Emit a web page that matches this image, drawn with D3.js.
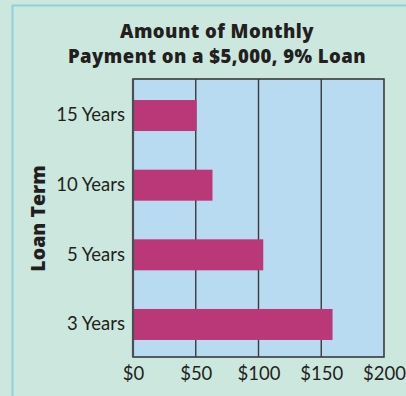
<!DOCTYPE html>
<html>
<head>
<meta charset="utf-8">
<script src="https://cdn.jsdelivr.net/npm/d3@7"></script>
<style>
  html, body { margin: 0; padding: 0; background: #cce8de; }
  svg { display: block; }
</style>
</head>
<body>
<svg id="chart" width="406" height="396"></svg>
<script>
// Monthly payment on a $5,000 loan at 9% interest, by loan term
const terms = ["15 Years", "10 Years", "5 Years", "3 Years"];
const payments = [50.71, 63.34, 103.79, 159.00];
const tickValues = [0, 50, 100, 150, 200];
const titleLines = ["Amount of Monthly", "Payment on a $5,000, 9% Loan"];
const axisTitle = "Loan Term";

const svg = d3.select("#chart");
const font = "Lato, 'Open Sans', sans-serif";
const boldFont = "'Open Sans', Lato, sans-serif";
const ink = "#231f20";

// Panel background with teal border on top and left
svg.append("rect").attr("width", 406).attr("height", 396).attr("fill", "#cce8de");
svg.append("line").attr("x1", 12.5).attr("x2", 12.5).attr("y1", 5).attr("y2", 396)
  .attr("stroke", "#8fd0d6").attr("stroke-width", 2);
svg.append("line").attr("x1", 12).attr("x2", 406).attr("y1", 5.5).attr("y2", 5.5)
  .attr("stroke", "#8fd0d6").attr("stroke-width", 2);

const plot = { left: 133, right: 384, top: 79, bottom: 357 };

const x = d3.scaleLinear().domain([0, 200]).range([plot.left, plot.right]);
const y = d3.scaleBand().domain(terms).range([80.7, 359.3]).paddingInner(0.555).paddingOuter(0.2775);

// Plot area
svg.append("rect")
  .attr("x", plot.left).attr("y", plot.top)
  .attr("width", plot.right - plot.left).attr("height", plot.bottom - plot.top)
  .attr("fill", "#b9dbf2");

// Vertical gridlines
svg.append("g").selectAll("line")
  .data(tickValues.slice(1, -1))
  .join("line")
  .attr("x1", d => x(d)).attr("x2", d => x(d))
  .attr("y1", plot.top).attr("y2", plot.bottom)
  .attr("stroke", "#3a3a3a").attr("stroke-width", 1.4);

// Bars
svg.append("g").selectAll("rect")
  .data(terms.map((t, i) => ({ term: t, value: payments[i] })))
  .join("rect")
  .attr("x", x(0))
  .attr("y", d => y(d.term))
  .attr("width", d => x(d.value) - x(0))
  .attr("height", y.bandwidth())
  .attr("fill", "#bb3878");

// Plot frame
svg.append("rect")
  .attr("x", plot.left).attr("y", plot.top)
  .attr("width", plot.right - plot.left).attr("height", plot.bottom - plot.top)
  .attr("fill", "none").attr("stroke", "#3a3a3a").attr("stroke-width", 1.6);
svg.append("line")
  .attr("x1", plot.left).attr("x2", plot.left).attr("y1", plot.top).attr("y2", plot.bottom)
  .attr("stroke", "#4a4f55").attr("stroke-width", 2.2);

// X axis labels
const xAxis = d3.axisBottom(x).tickValues(tickValues).tickFormat(d => "$" + d).tickSize(0).tickPadding(0);
const gx = svg.append("g").attr("transform", `translate(0, 367)`).call(xAxis);
gx.select(".domain").remove();
gx.selectAll("text")
  .attr("dy", "0.71em")
  .attr("font-family", font).attr("font-size", 18.5).attr("fill", ink);

// Y axis labels
const yAxis = d3.axisLeft(y).tickSize(0).tickPadding(8);
const gy = svg.append("g").attr("transform", `translate(${plot.left}, 0)`).call(yAxis);
gy.select(".domain").remove();
gy.selectAll("text")
  .attr("font-family", font).attr("font-size", 18.5).attr("fill", ink);

// Axis title
svg.append("text")
  .attr("transform", `translate(45, 218.5) rotate(-90)`)
  .attr("text-anchor", "middle")
  .attr("font-family", boldFont).attr("font-weight", 800).attr("font-size", 19.5)
  .attr("fill", ink)
  .text(axisTitle);

// Chart title
svg.append("g").selectAll("text")
  .data(titleLines)
  .join("text")
  .attr("x", 217)
  .attr("y", (d, i) => 38 + i * 25)
  .attr("text-anchor", "middle")
  .attr("font-family", boldFont).attr("font-weight", 800).attr("font-size", 18.5)
  .attr("letter-spacing", 0.45).attr("fill", ink)
  .text(d => d);
</script>
</body>
</html>
